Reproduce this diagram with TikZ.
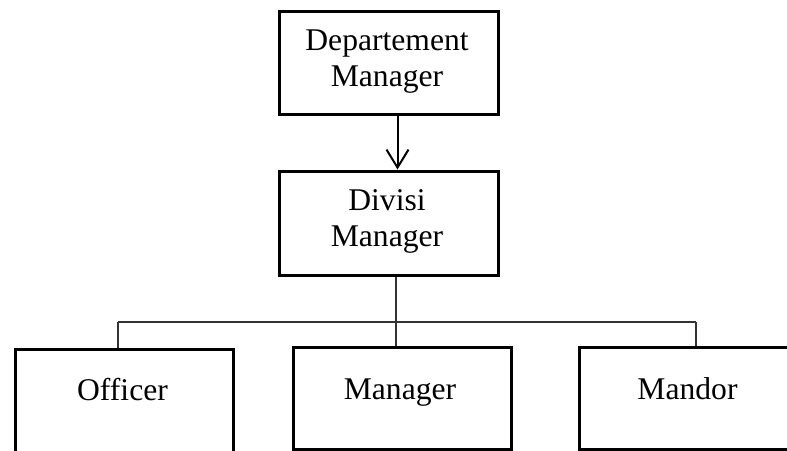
\documentclass[tikz,border=0pt]{standalone}
\usepackage{fontspec}
\setmainfont{Liberation Serif}
\usetikzlibrary{arrows.meta}
\begin{document}
\begin{tikzpicture}[x=0.5pt,y=-0.5pt,
  box/.style={draw=black, line width=1.5pt, inner sep=0pt, anchor=north west},
  txt/.style={anchor=base, inner sep=0pt, font=\fontsize{15.8pt}{19pt}\selectfont},
  conn/.style={draw=black!80, line width=0.8pt},
  arr/.style={draw=black, line width=1pt, -{Straight Barb[length=9pt,width=11pt,line width=1pt]}}]
\fill[white] (0,0) rectangle (787,450);
\useasboundingbox (0,0) rectangle (787,450);
\clip (0,0) rectangle (787,450);
% boxes
\node[box, minimum width=109.5pt, minimum height=51.75pt] (dept) at (277.5,9.5) {};
\node[box, minimum width=109.5pt, minimum height=52.25pt] (div) at (277.5,169.5) {};
\node[box, minimum width=109.25pt, minimum height=56pt] (off) at (13.5,347.5) {};
\node[box, minimum width=109.25pt, minimum height=51.25pt] (man) at (291.5,345.5) {};
\node[box, minimum width=115pt, minimum height=51.25pt] (mand) at (577.5,345.5) {};
% texts
\node[txt] (t1) at (387,50) {Departement};
\node[txt] (t2) at (387,86) {Manager};
\node[txt] (t3) at (387,210) {Divisi};
\node[txt] (t4) at (387,246) {Manager};
\node[txt] (t5) at (122.5,400) {Officer};
\node[txt] (t6) at (400,399) {Manager};
\node[txt] (t7) at (687.5,399) {Mandor};
% connectors
\coordinate (j) at (396,322);
\coordinate (jl) at (118,322);
\coordinate (jr) at (696,322);
\draw[arr] (dept.south -| 397.5,0) -- (div.north -| 397.5,0);
\draw[conn] (div.south -| j) -- (j);
\draw[conn] (j) -- (man.north -| j);
\draw[conn] (jl) -- (jr);
\draw[conn] (jl) -- (off.north -| jl);
\draw[conn] (jr) -- (mand.north -| jr);
\end{tikzpicture}
\end{document}
